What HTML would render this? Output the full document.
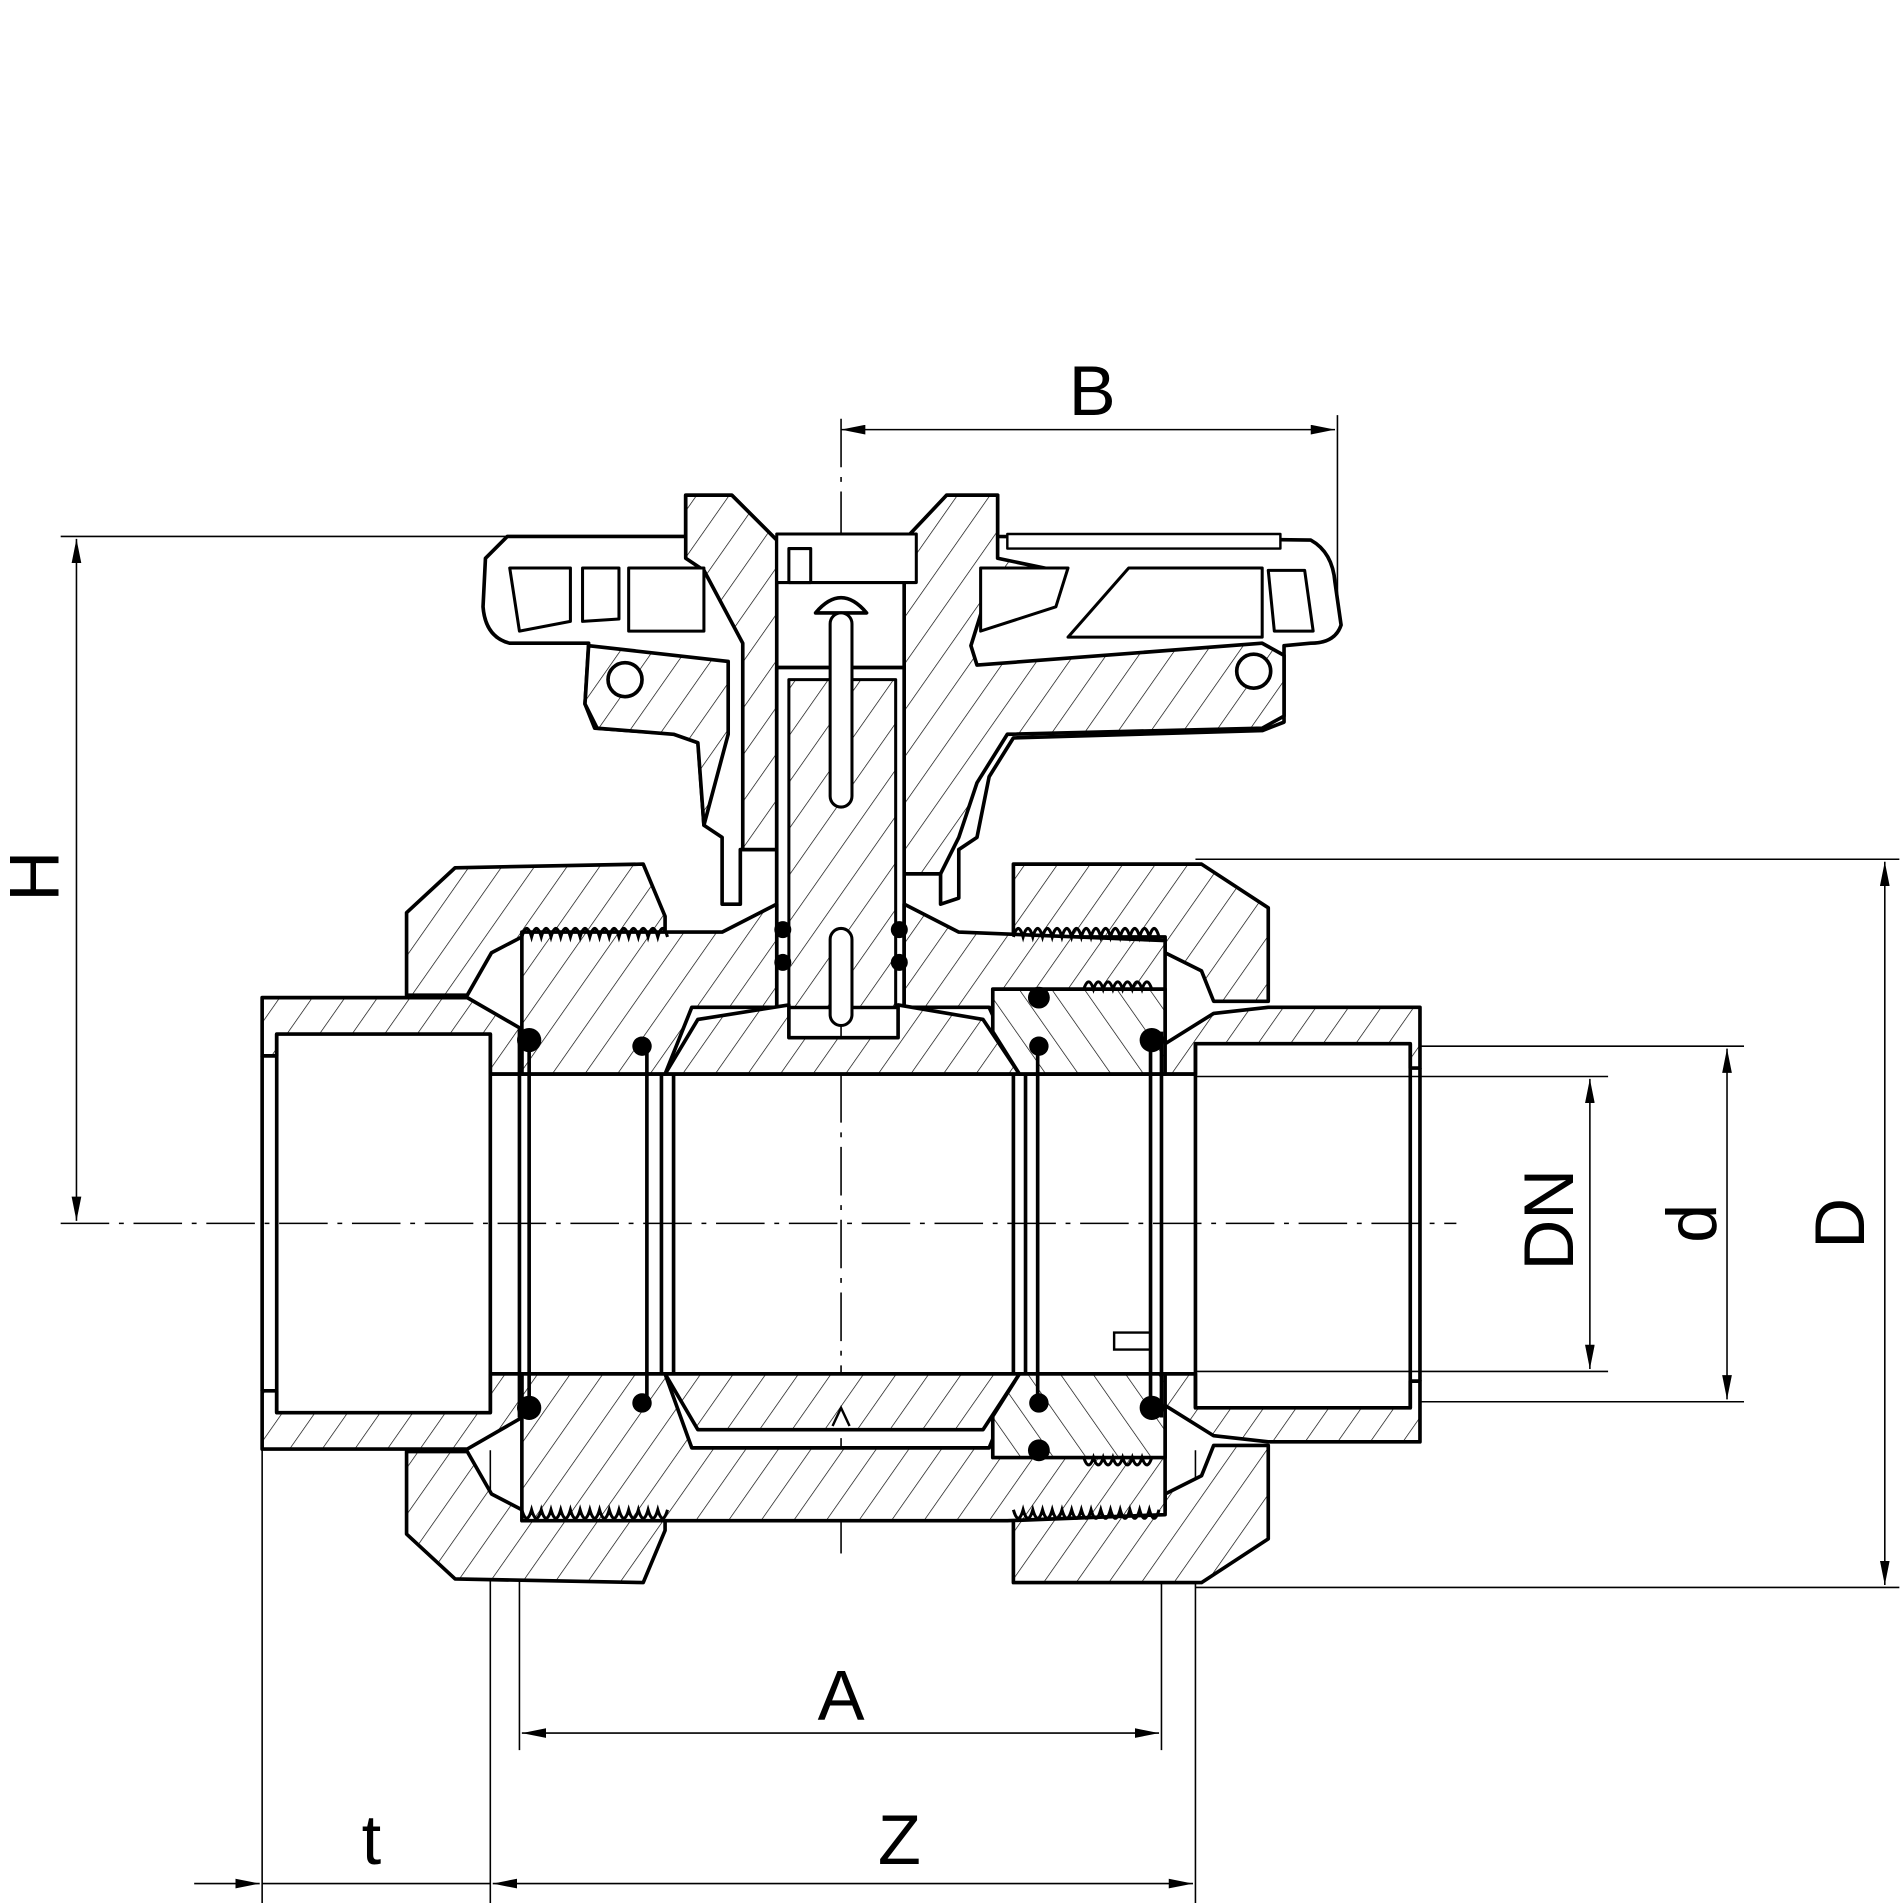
<!DOCTYPE html>
<html><head><style>html,body{margin:0;padding:0;background:#fff}svg{display:block}</style></head>
<body>
<svg width="1903" height="1903" viewBox="0 0 1568 1568" xmlns="http://www.w3.org/2000/svg">
<defs>
<pattern id="h" patternUnits="userSpaceOnUse" width="22" height="22" patternTransform="rotate(35)">
<rect width="22" height="22" fill="#fff"/><line x1="0" y1="0" x2="0" y2="22" stroke="#000" stroke-width="1.1"/></pattern>
<pattern id="h2" patternUnits="userSpaceOnUse" width="22" height="22" patternTransform="rotate(-35)">
<rect width="22" height="22" fill="#fff"/><line x1="0" y1="0" x2="0" y2="22" stroke="#000" stroke-width="1.1"/></pattern>
<marker id="a" viewBox="0 0 20 8" refX="20" refY="4" markerWidth="20" markerHeight="8" orient="auto-start-reverse" markerUnits="userSpaceOnUse"><path d="M0,0 L20,4 L0,8 z" fill="#000"/></marker>
</defs>
<rect width="1568" height="1568" fill="#fff"/>

<!-- dimension lines -->
<g stroke="#000" stroke-width="1.3" fill="none">
<line x1="50" y1="442" x2="430" y2="442"/>
<line x1="63" y1="444" x2="63" y2="1006" marker-start="url(#a)" marker-end="url(#a)"/>
<line x1="693" y1="354" x2="1100" y2="354" marker-start="url(#a)" marker-end="url(#a)"/>
<line x1="1102" y1="342" x2="1102" y2="500"/>
<line x1="985" y1="708" x2="1565" y2="708"/>
<line x1="985" y1="1308" x2="1565" y2="1308"/>
<line x1="1553" y1="710" x2="1553" y2="1306" marker-start="url(#a)" marker-end="url(#a)"/>
<line x1="1165" y1="862" x2="1437" y2="862"/>
<line x1="1165" y1="1155" x2="1437" y2="1155"/>
<line x1="1423" y1="864" x2="1423" y2="1153" marker-start="url(#a)" marker-end="url(#a)"/>
<line x1="985" y1="887" x2="1325" y2="887"/>
<line x1="985" y1="1130" x2="1325" y2="1130"/>
<line x1="1310" y1="889" x2="1310" y2="1128" marker-start="url(#a)" marker-end="url(#a)"/>
<line x1="428" y1="1250" x2="428" y2="1442"/>
<line x1="957" y1="1250" x2="957" y2="1442"/>
<line x1="430" y1="1428" x2="955" y2="1428" marker-start="url(#a)" marker-end="url(#a)"/>
<line x1="216" y1="1195" x2="216" y2="1568"/>
<line x1="404" y1="1195" x2="404" y2="1568"/>
<line x1="985" y1="1195" x2="985" y2="1568"/>
<line x1="160" y1="1552" x2="214" y2="1552" marker-end="url(#a)"/>
<line x1="406" y1="1552" x2="983" y2="1552" marker-start="url(#a)" marker-end="url(#a)"/>
<line x1="216" y1="1552" x2="404" y2="1552"/>
<line x1="50" y1="1008" x2="1200" y2="1008" stroke-dasharray="40,8,4,8"/>
<line x1="693" y1="345" x2="693" y2="1280" stroke-dasharray="40,8,4,8"/>
</g>
<g font-family="Liberation Sans, sans-serif" font-size="58" fill="#000" text-anchor="middle">
<text x="900" y="342">B</text>
<text x="693" y="1417">A</text>
<text x="306" y="1536">t</text>
<text x="741" y="1536">Z</text>
<text transform="translate(48,722) rotate(-90)">H</text>
<text transform="translate(1296,1005) rotate(-90)">DN</text>
<text transform="translate(1414,1008) rotate(-90)">d</text>
<text transform="translate(1536,1008) rotate(-90)">D</text>
</g>

<g stroke="#000" stroke-width="3" stroke-linejoin="round">
<!-- handle shell -->
<path d="M418,442 L565,442 L565,408 L603,408 L640,445 L750,445 L780,408 L822,408 L822,442 L1080,445 Q1098,455 1100,480 L1105,515 Q1100,530 1080,530 L1058,532 L1058,595 L1040,602 L835,608 L815,640 L805,690 L790,700 L790,740 L775,745 L775,720 L745,720 L745,830 L640,830 L640,700 L610,700 L610,745 L595,745 L595,690 L580,680 L575,610 L560,605 L490,600 L482,580 L485,530 L420,530 Q400,525 398,500 L400,460 Z" fill="#fff"/>
<path d="M565,408 L603,408 L640,445 L640,700 L612,700 L612,530 L580,470 L565,460 Z" fill="url(#h)"/>
<path d="M485,532 L600,545 L600,605 L580,680 L575,612 L555,605 L492,600 L482,580 Z" fill="url(#h)"/>
<path d="M822,408 L780,408 L745,445 L745,720 L775,720 L790,690 L805,645 L830,605 L1040,600 L1058,590 L1058,540 L1040,530 L805,548 L800,532 L810,500 L870,470 L822,460 Z" fill="url(#h)"/>
<circle cx="515" cy="560" r="14" fill="#fff"/>
<circle cx="1033" cy="553" r="14" fill="#fff"/>
<path d="M420,468 L470,468 L470,512 L428,520 Z M480,468 L510,468 L510,510 L480,512 Z M518,468 L580,468 L580,520 L518,520 Z" fill="#fff" stroke-width="2.5"/>
<path d="M808,468 L880,468 L870,500 L808,520 Z M930,468 L1040,468 L1040,525 L880,525 Z M1045,470 L1075,470 L1082,520 L1050,520 Z" fill="#fff" stroke-width="2.5"/>
<path d="M830,440 L1055,440 L1055,452 L830,452 Z" fill="#fff" stroke-width="2"/>
<rect x="640" y="440" width="115" height="40" fill="#fff" stroke-width="2.5"/>
<rect x="650" y="452" width="18" height="28" fill="#fff" stroke-width="2.5"/>
<!-- stem -->
<rect x="640" y="550" width="105" height="280" fill="#fff"/>
<rect x="650" y="560" width="88" height="270" fill="url(#h)" stroke-width="2.5"/>
<path d="M672,505 Q693,480 714,505 Z" fill="#fff"/>
<rect x="684" y="505" width="18" height="160" rx="9" fill="#fff" stroke-width="2.5"/>
<rect x="684" y="765" width="18" height="80" rx="9" fill="#fff" stroke-width="2.5"/>

<!-- nuts -->
<path d="M335,752 L375,715 L530,712 L548,755 L548,772 L430,772 L405,785 L385,820 L335,820 Z" fill="url(#h)"/>
<path d="M335,1264 L375,1301 L530,1304 L548,1261 L548,1244 L430,1244 L405,1231 L385,1196 L335,1196 Z" fill="url(#h)"/>
<path d="M835,712 L990,712 L1045,748 L1045,825 L1000,825 L990,800 L960,785 L960,772 L835,772 Z" fill="url(#h)"/>
<path d="M835,1304 L990,1304 L1045,1268 L1045,1191 L1000,1191 L990,1216 L960,1231 L960,1244 L835,1244 Z" fill="url(#h)"/>

<!-- body -->
<path d="M430,768 L595,768 L640,745 L640,830 L570,830 L548,885 L430,885 Z" fill="url(#h)"/>
<path d="M745,745 L790,768 L960,775 L960,885 L840,885 L815,830 L745,830 Z" fill="url(#h)"/>
<path d="M430,1132 L548,1132 L570,1193 L815,1193 L840,1132 L960,1132 L960,1248 L830,1253 L570,1253 L430,1253 Z" fill="url(#h)"/>
<!-- ball caps -->
<path d="M548,885 L575,840 L650,828 L650,855 L740,855 L740,828 L810,840 L840,885 Z" fill="url(#h)"/>
<path d="M548,1132 L575,1178 L810,1178 L840,1132 Z" fill="url(#h)"/>
<!-- right seat carrier -->
<path d="M818,815 L960,815 L960,885 L840,885 L818,850 Z" fill="url(#h2)"/>
<path d="M818,1201 L960,1201 L960,1132 L840,1132 L818,1167 Z" fill="url(#h2)"/>

<!-- end sockets -->
<path d="M216,822 L385,822 L430,848 L430,885 L404,885 L404,852 L228,852 L228,870 L216,870 Z" fill="url(#h)"/>
<path d="M216,1194 L385,1194 L430,1168 L430,1132 L404,1132 L404,1164 L228,1164 L228,1146 L216,1146 Z" fill="url(#h)"/>
<path d="M1170,830 L1045,830 L1000,835 L960,860 L960,885 L985,885 L985,860 L1162,860 L1162,880 L1170,880 Z" fill="url(#h)"/>
<path d="M1170,1188 L1045,1188 L1000,1183 L960,1158 L960,1132 L985,1132 L985,1160 L1162,1160 L1162,1138 L1170,1138 Z" fill="url(#h)"/>
</g>

<g stroke="#000" stroke-width="3" fill="none">
<line x1="216" y1="870" x2="216" y2="1146"/>
<line x1="228" y1="852" x2="228" y2="1164"/>
<line x1="404" y1="852" x2="404" y2="1164"/>
<line x1="404" y1="885" x2="985" y2="885"/>
<line x1="404" y1="1132" x2="985" y2="1132"/>
<line x1="985" y1="860" x2="985" y2="1160"/>
<line x1="1162" y1="860" x2="1162" y2="1160"/>
<line x1="1170" y1="880" x2="1170" y2="1138"/>
<line x1="428" y1="848" x2="428" y2="1168"/>
<line x1="436" y1="848" x2="436" y2="1168"/>
<line x1="533" y1="865" x2="533" y2="1152"/>
<line x1="545" y1="885" x2="545" y2="1132"/>
<line x1="555" y1="885" x2="555" y2="1132"/>
<line x1="835" y1="885" x2="835" y2="1132"/>
<line x1="845" y1="885" x2="845" y2="1132"/>
<line x1="855" y1="865" x2="855" y2="1152"/>
<line x1="948" y1="850" x2="948" y2="1168"/>
<line x1="957" y1="850" x2="957" y2="1168"/>
<!-- threads -->
<path d="M430,772 q4,-14 8,0 q4,-14 8,0 q4,-14 8,0 q4,-14 8,0 q4,-14 8,0 q4,-14 8,0 q4,-14 8,0 q4,-14 8,0 q4,-14 8,0 q4,-14 8,0 q4,-14 8,0 q4,-14 8,0 q4,-14 8,0 q4,-14 8,0 q4,-14 8,0" stroke-width="2.5"/>
<path d="M430,1244 q4,14 8,0 q4,14 8,0 q4,14 8,0 q4,14 8,0 q4,14 8,0 q4,14 8,0 q4,14 8,0 q4,14 8,0 q4,14 8,0 q4,14 8,0 q4,14 8,0 q4,14 8,0 q4,14 8,0 q4,14 8,0 q4,14 8,0" stroke-width="2.5"/>
<path d="M835,772 q4,-14 8,0 q4,-14 8,0 q4,-14 8,0 q4,-14 8,0 q4,-14 8,0 q4,-14 8,0 q4,-14 8,0 q4,-14 8,0 q4,-14 8,0 q4,-14 8,0 q4,-14 8,0 q4,-14 8,0 q4,-14 8,0 q4,-14 8,0 q4,-14 8,0" stroke-width="2.5"/>
<path d="M835,1244 q4,14 8,0 q4,14 8,0 q4,14 8,0 q4,14 8,0 q4,14 8,0 q4,14 8,0 q4,14 8,0 q4,14 8,0 q4,14 8,0 q4,14 8,0 q4,14 8,0 q4,14 8,0 q4,14 8,0 q4,14 8,0 q4,14 8,0" stroke-width="2.5"/>
<path d="M893,815 q4,-12 8,0 q4,-12 8,0 q4,-12 8,0 q4,-12 8,0 q4,-12 8,0 q4,-12 8,0 q4,-12 8,0" stroke-width="2.5"/>
<path d="M893,1201 q4,12 8,0 q4,12 8,0 q4,12 8,0 q4,12 8,0 q4,12 8,0 q4,12 8,0 q4,12 8,0" stroke-width="2.5"/>
<path d="M918,1098 L948,1098 L948,1112 L918,1112 Z" stroke-width="2"/>
<path d="M686,1175 L693,1160 L700,1175" stroke-width="2"/>
</g>
<g fill="#000">
<circle cx="436" cy="857" r="10"/><circle cx="436" cy="1160" r="10"/>
<circle cx="529" cy="862" r="8"/><circle cx="529" cy="1156" r="8"/>
<circle cx="856" cy="822" r="9"/><circle cx="856" cy="862" r="8"/>
<circle cx="856" cy="1156" r="8"/><circle cx="856" cy="1195" r="9"/>
<circle cx="949" cy="857" r="10"/><circle cx="949" cy="1160" r="10"/>
<circle cx="645" cy="766" r="7"/><circle cx="645" cy="793" r="7"/>
<circle cx="741" cy="766" r="7"/><circle cx="741" cy="793" r="7"/>
</g>
</svg>
</body></html>
